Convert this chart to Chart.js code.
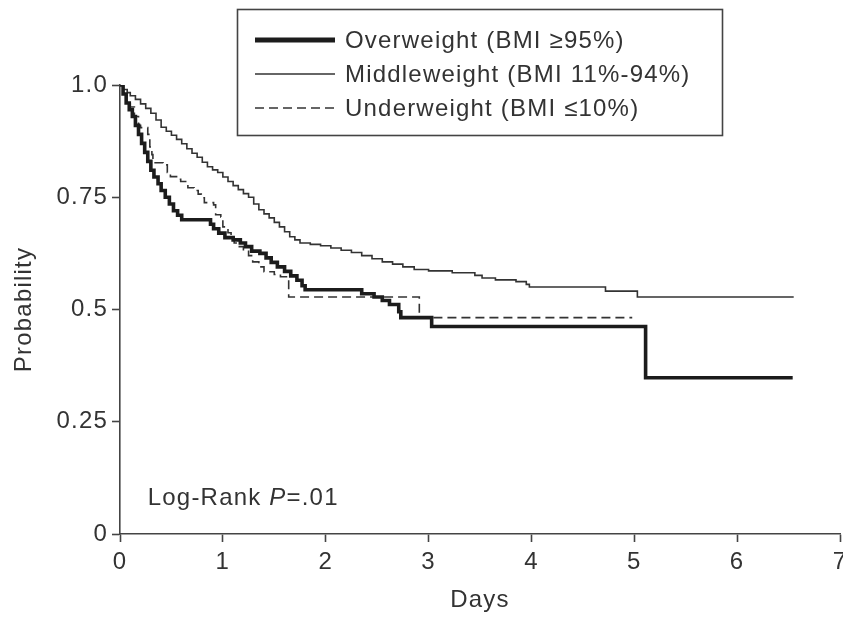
<!DOCTYPE html>
<html><head><meta charset="utf-8">
<script src="https://cdn.jsdelivr.net/npm/chart.js@4.4.1/dist/chart.umd.min.js"></script>
<style>html,body{margin:0;padding:0;background:#fff;overflow:hidden}</style>
</head><body>
<canvas id="c" width="843" height="619"></canvas>
<script>
// ---- data ----
const seriesLabels = ['Overweight (BMI \u226595%)', 'Middleweight (BMI 11%-94%)', 'Underweight (BMI \u226410%)'];

const owDays = [0,0.03,0.06,0.09,0.12,0.15,0.18,0.21,0.24,0.27,0.30,0.33,0.37,0.40,0.44,0.48,0.52,0.56,0.60,0.88,0.91,0.96,1.02,1.10,1.17,1.22,1.28,1.36,1.42,1.47,1.53,1.60,1.66,1.72,1.77,1.80,2.35,2.47,2.55,2.62,2.71,2.73,3.03,5.11,6.54];
const owProb = [1.0,0.98,0.96,0.945,0.93,0.91,0.89,0.87,0.85,0.83,0.81,0.795,0.78,0.765,0.75,0.735,0.72,0.71,0.70,0.69,0.68,0.67,0.66,0.655,0.648,0.64,0.63,0.625,0.615,0.605,0.595,0.585,0.575,0.565,0.553,0.544,0.535,0.528,0.52,0.511,0.495,0.482,0.462,0.348,0.348];

const mwDays = [0,0.03,0.07,0.10,0.15,0.20,0.25,0.30,0.35,0.40,0.45,0.50,0.55,0.60,0.65,0.70,0.75,0.80,0.85,0.90,0.95,1.00,1.05,1.10,1.15,1.20,1.25,1.30,1.35,1.40,1.45,1.50,1.55,1.60,1.65,1.70,1.75,1.85,1.95,2.05,2.15,2.25,2.35,2.45,2.55,2.65,2.75,2.86,3.00,3.23,3.45,3.52,3.65,3.85,3.95,3.98,4.72,5.03,6.55];
const mwProb = [1.0,0.99,0.983,0.976,0.968,0.958,0.948,0.937,0.922,0.906,0.897,0.888,0.879,0.869,0.858,0.848,0.839,0.828,0.818,0.811,0.805,0.795,0.785,0.776,0.767,0.758,0.75,0.735,0.722,0.713,0.704,0.694,0.684,0.673,0.662,0.655,0.648,0.645,0.642,0.637,0.632,0.627,0.62,0.613,0.606,0.601,0.595,0.589,0.586,0.582,0.576,0.570,0.566,0.562,0.556,0.550,0.541,0.528,0.528];

const uwDays = [0,0.03,0.06,0.10,0.14,0.18,0.20,0.27,0.29,0.31,0.32,0.42,0.46,0.49,0.55,0.59,0.66,0.72,0.76,0.79,0.82,0.91,0.93,0.98,1.00,1.05,1.08,1.11,1.16,1.20,1.25,1.29,1.35,1.40,1.50,1.56,1.64,2.91,4.98];
const uwProb = [1.0,0.98,0.965,0.951,0.93,0.91,0.905,0.89,0.862,0.845,0.827,0.822,0.805,0.796,0.79,0.785,0.771,0.765,0.757,0.749,0.738,0.733,0.711,0.706,0.684,0.671,0.66,0.648,0.64,0.633,0.62,0.606,0.595,0.584,0.578,0.573,0.528,0.482,0.482];

const xTickLabels = ['0','1','2','3','4','5','6','7'];
const yTickValues = [0, 0.25, 0.5, 0.75, 1.0];
const yTickLabels = ['0', '0.25', '0.5', '0.75', '1.0'];
const xTitle = 'Days';
const yTitle = 'Probability';
const annotText = ['Log-Rank ', 'P', '=.01'];
const annotPos = {x: 0.27, y: 0.065};

// ---- styling ----
const FONT = '"Liberation Sans", Arial, Helvetica, sans-serif';
const TXT = '#333';
const AX = '#444';
Chart.defaults.font.family = FONT;
Chart.defaults.font.size = 24;
Chart.defaults.color = TXT;

const toXY = (d, p) => d.map((v, i) => ({x: v, y: p[i]}));

const styles = [
  {borderColor: '#1c1c1c', borderWidth: 3.6, borderDash: [], legendWidth: 5},
  {borderColor: '#333', borderWidth: 1.6, borderDash: [], legendWidth: 1.6},
  {borderColor: '#333', borderWidth: 1.6, borderDash: [9, 5], legendWidth: 1.6}
];
const seriesData = [toXY(owDays, owProb), toXY(mwDays, mwProb), toXY(uwDays, uwProb)];

const spacingPlugin = {
  id: 'spacing',
  beforeDraw(chart) { chart.ctx.letterSpacing = '1.2px'; }
};

const legendBox = {
  id: 'legendBox',
  afterDraw(chart) {
    const ctx = chart.ctx;
    ctx.save();
    ctx.letterSpacing = '1.2px';
    ctx.strokeStyle = AX; ctx.lineWidth = 1.6; ctx.setLineDash([]);
    ctx.strokeRect(237.5, 9.5, 485, 126);
    const rows = [40, 74, 108];
    chart.data.datasets.forEach((ds, i) => {
      ctx.beginPath();
      ctx.strokeStyle = ds.borderColor;
      ctx.lineWidth = styles[i].legendWidth;
      ctx.setLineDash(ds.borderDash || []);
      ctx.moveTo(255, rows[i]); ctx.lineTo(335, rows[i]);
      ctx.stroke();
      ctx.setLineDash([]);
      ctx.fillStyle = TXT;
      ctx.font = '24px ' + FONT;
      ctx.textBaseline = 'middle';
      ctx.textAlign = 'left';
      ctx.fillText(ds.label, 345, rows[i] + 1);
    });
    // annotation
    const xs = chart.scales.x, ys = chart.scales.y;
    let x = xs.getPixelForValue(annotPos.x);
    const y = ys.getPixelForValue(annotPos.y);
    ctx.textBaseline = 'alphabetic';
    annotText.forEach((t, i) => {
      ctx.font = (i === 1 ? 'italic ' : '') + '24px ' + FONT;
      ctx.fillText(t, x, y);
      x += ctx.measureText(t).width;
    });
    ctx.restore();
  }
};

new Chart(document.getElementById('c'), {
  type: 'line',
  data: {
    datasets: seriesLabels.map((lab, i) => ({
      label: lab,
      data: seriesData[i],
      borderColor: styles[i].borderColor,
      borderWidth: styles[i].borderWidth,
      borderDash: styles[i].borderDash,
      stepped: 'before',
      pointRadius: 0,
      fill: false,
      borderCapStyle: 'butt',
      borderJoinStyle: 'miter',
      tension: 0
    }))
  },
  options: {
    responsive: false,
    animation: false,
    devicePixelRatio: 1,
    layout: {padding: {top: 85, right: 3, left: 0, bottom: 0}},
    plugins: {legend: {display: false}, tooltip: {enabled: false}},
    scales: {
      x: {
        type: 'linear', min: 0, max: 7,
        ticks: {stepSize: 1, padding: 6, color: TXT, maxRotation: 0,
          callback: (v) => xTickLabels[v] ?? ''},
        grid: {drawOnChartArea: false, drawTicks: true, tickLength: 8, tickWidth: 1.6, tickColor: AX},
        border: {display: true, color: AX, width: 1.6},
        title: {display: true, text: xTitle, color: TXT, font: {size: 24}, padding: {top: 0, bottom: 4}},
        afterFit(s) { s.height = 85; s.paddingLeft = 0; s.paddingRight = 0; }
      },
      y: {
        type: 'linear', min: 0, max: 1,
        afterBuildTicks(s) { s.ticks = yTickValues.map(v => ({value: v})); },
        ticks: {padding: 4, color: TXT,
          callback: (v) => { const k = yTickValues.indexOf(v); return k >= 0 ? yTickLabels[k] : ''; }},
        grid: {drawOnChartArea: false, drawTicks: true, tickLength: 8, tickWidth: 1.6, tickColor: AX},
        border: {display: true, color: AX, width: 1.6},
        title: {display: true, text: yTitle, color: TXT, font: {size: 24}, padding: {top: 10, bottom: 0}},
        afterFit(s) { s.width = 120; s.paddingTop = 0; s.paddingBottom = 0; }
      }
    }
  },
  plugins: [spacingPlugin, legendBox]
});
</script>
</body></html>
